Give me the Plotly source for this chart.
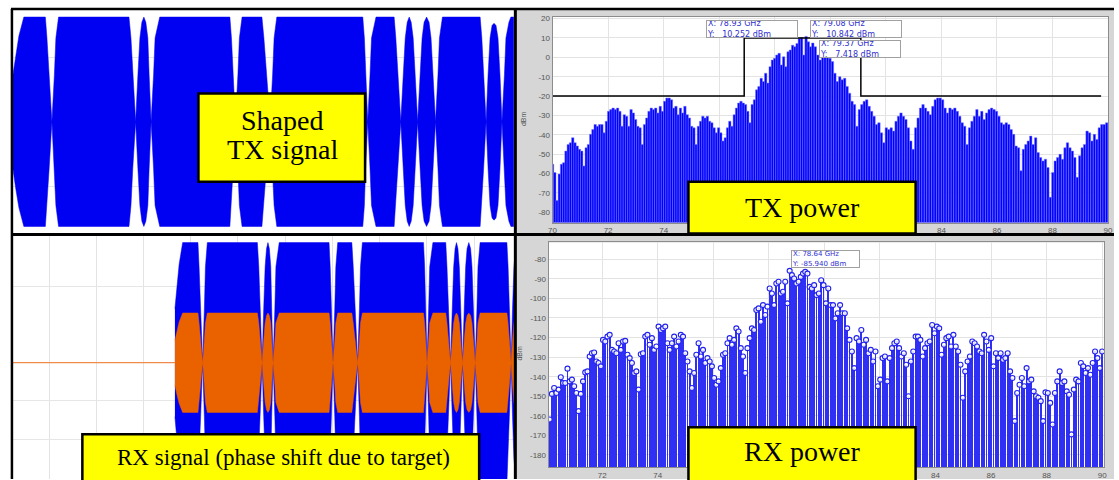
import numpy as np
import plotly.graph_objects as go

W, H = 1119, 480

# ---------------- data ----------------
# TX signal envelope (relative amplitude vs time, arbitrary ns units)
tx_env_t = [0, 2.7, 6, 11, 32.7, 34.3, 36.5, 39.3,
            41.8, 43.3, 46, 117, 119, 120.8, 123.7,
            126, 128, 130, 132, 134, 136, 137.3, 139.3,
            141.8, 143.3, 148, 218.7, 220.3, 222, 224.3,
            226.8, 228.3, 231, 251, 253, 255.5, 259.3,
            261.8, 263.3, 266, 352.7, 354.3, 355.5, 357.7,
            360, 361.5, 366, 384.3, 386, 388, 391,
            393.5, 395.5, 397.5, 399.5, 401.5, 403.5, 405.5, 408,
            410.5, 412.5, 414.5, 417, 419.5, 421.5, 423.5, 426,
            428.5, 430, 433, 471, 472.7, 474.5, 477,
            479, 481, 483, 485, 487, 489, 491, 493,
            495.5, 497, 500, 502, 505]
tx_env_a = [0.45, 0.63, 0.82, 1, 1, 0.8, 0.45, 0,
            0.45, 0.8, 1, 1, 0.8, 0.45, 0,
            0.45, 0.8, 0.95, 1, 0.95, 0.8, 0.45, 0,
            0.45, 0.8, 1, 1, 0.8, 0.45, 0,
            0.45, 0.8, 1, 1, 0.8, 0.45, 0,
            0.45, 0.8, 1, 1, 0.8, 0.45, 0,
            0.45, 0.8, 1, 1, 0.8, 0.45, 0,
            0.45, 0.8, 0.95, 1, 0.95, 0.8, 0.45, 0,
            0.45, 0.8, 0.95, 1, 0.95, 0.8, 0.45, 0,
            0.45, 0.8, 1, 1, 0.8, 0.45, 0,
            0.45, 0.8, 0.92, 0.94, 0.92, 0.8, 0.45, 0,
            0.45, 0.8, 0.95, 1, 1]
tx_amp = 0.81

# RX signal: delayed copy, two components
rx_delay = 229.8
rx_blue_amp = 0.314
rx_orange_amp = 0.13
rx_quiet_t = [0.0, 229.8]
rx_quiet_v = [0.0, 0.0]

# TX power spectrum (dBm)
tx_db_a = [-55.2, -59.5, -74.0, -60.3, -55.2, -54.4, -48.4, -45.0, -44.1, -41.5,
           -44.1, -45.8, -47.5, -48.4, -56.1, -46.7, -45.0, -39.8, -37.3, -34.7,
           -35.6, -34.7, -34.7, -39.0, -33.0, -27.9, -27.0, -26.2, -27.0, -26.2,
           -27.9, -35.6, -29.6, -30.4, -35.6, -27.0, -28.7, -32.1, -35.6, -36.4,
           -45.0, -34.7, -31.3, -27.9, -26.2, -27.0, -26.2, -28.7, -25.3, -27.9,
           -22.7, -21.0, -21.0, -21.9, -26.2, -25.3, -29.6, -26.2, -28.7, -25.3,
           -29.6, -31.3, -35.6, -36.4, -45.0, -35.6, -33.0, -30.4, -31.3, -30.4,
           -33.0, -33.8, -36.4, -39.0, -36.4, -39.0, -43.2, -41.5, -36.4, -33.0,
           -35.6, -29.6, -26.2, -23.6, -22.7, -23.6, -24.4, -27.9, -33.8, -24.4,
           -21.9, -16.8, -15.0, -10.8, -12.5, -8.2, -13.3, -4.8, -1.4, -0.5,
           1.2, 2.1, -3.9, 0.3, -4.8, 2.9, 3.8, 6.3, 5.5, 7.2,
           9.7, 10.25, 1.2, 10.84, 8.0, 5.5, 7.42]
tx_db_b = [5.5, 1.2, -1.4, 0.3, 1.2, 0.3, -0.5, -2.2, -8.2, -12.5,
           -10.0, -11.6, -10.8, -15.0, -18.5, -22.7, -24.4, -35.6, -27.0, -24.4,
           -22.7, -21.9, -25.3, -27.9, -30.4, -34.7, -33.8, -39.0, -44.1, -36.4,
           -37.3, -36.4, -38.1, -33.0, -30.4, -28.7, -30.4, -32.1, -36.4, -43.2,
           -47.5, -36.4, -31.3, -26.2, -24.4, -26.2, -27.9, -29.6, -25.3, -21.9,
           -21.0, -21.0, -21.9, -26.2, -28.7, -26.2, -27.0, -26.2, -27.9, -30.4,
           -33.8, -35.6, -45.0, -36.4, -33.0, -30.4, -27.0, -30.4, -27.9, -32.1,
           -28.7, -27.0, -26.2, -27.0, -27.9, -30.4, -33.8, -34.7, -33.8, -34.7,
           -37.3, -39.8, -45.8, -46.7, -58.6, -47.5, -45.0, -43.2, -40.7, -45.0,
           -41.5, -49.2, -51.8, -53.5, -52.6, -56.9, -72.3, -59.5, -53.5, -51.8,
           -50.1, -52.6, -46.7, -44.1, -46.7, -48.4, -51.8, -62.0, -50.9, -46.7,
           -45.0, -38.1, -39.0, -43.2, -39.8, -42.4, -36.4, -34.7, -34.7, -33.8]
tx_f = np.concatenate([np.linspace(70.0, 79.37, len(tx_db_a)),
                       np.linspace(79.46, 89.95, len(tx_db_b))])
tx_db = np.array(tx_db_a + tx_db_b)
tx_floor = -90.0

# spectral mask
mask_f = [70.0, 76.9, 76.9, 81.1, 81.1, 89.75]
mask_db = [-20, -20, 10, 10, -20, -20]

# RX power spectrum (dBm)
rx_db_a = [-161.9, -148.8, -145.8, -148.3, -146.6, -140.3, -143.2, -143.2, -135.9, -142.4,
           -141.5, -144.9, -148.3, -157.6, -148.8, -142.4, -137.8, -137.3, -129.7, -128.0,
           -127.6, -132.2, -133.0, -134.7, -121.2, -122.0, -119.5, -118.6, -126.3, -127.1,
           -128.0, -122.9, -126.3, -122.0, -121.7, -128.8, -130.5, -133.0, -138.1, -137.3,
           -146.6, -128.5, -128.0, -119.5, -118.6, -123.7, -120.3, -126.3, -124.6, -114.4,
           -116.1, -115.3, -114.4, -122.9, -126.3, -122.9, -119.5, -124.6, -122.0, -118.6,
           -119.5, -128.0, -132.2, -137.3, -145.8, -138.1, -128.8, -122.9, -129.7, -126.3,
           -133.0, -130.5, -132.2, -134.7, -140.7, -144.1, -142.4, -135.6, -128.8, -128.0,
           -122.9, -120.3, -123.7, -121.2, -115.3, -116.9, -125.4, -129.7, -138.1, -125.4,
           -120.3, -115.3, -116.1, -105.9, -105.1, -111.9, -103.4, -108.5, -104.2, -94.9,
           -97.5, -103.4, -92.4, -91.5, -97.5, -96.6, -91.5, -102.5, -85.9, -88.1,
           -89.8, -92.4, -91.5, -89.0, -87.3, -86.4, -87.3, -94.1, -94.9]
rx_db_b = [-93.2, -98.3, -97.5, -90.7, -93.2, -102.5, -94.9, -103.4, -103.4, -110.2,
           -107.6, -103.4, -107.6, -107.6, -115.3, -121.2, -127.1, -135.6, -120.3, -122.0,
           -116.1, -123.7, -121.2, -128.0, -126.3, -132.2, -127.1, -144.9, -141.5, -130.5,
           -129.7, -142.4, -130.5, -125.4, -122.9, -122.0, -125.4, -129.7, -128.0, -133.9,
           -150.0, -132.2, -127.1, -119.5, -119.5, -121.2, -129.7, -125.4, -122.9, -122.0,
           -113.6, -117.8, -114.4, -115.3, -128.8, -123.7, -120.3, -119.5, -124.6, -118.6,
           -124.6, -127.1, -133.9, -150.8, -137.3, -132.2, -129.7, -122.0, -122.9, -124.6,
           -127.1, -128.0, -118.6, -122.0, -126.3, -120.3, -134.7, -128.0, -130.5, -128.0,
           -131.4, -130.5, -128.0, -137.3, -140.7, -162.7, -148.3, -144.1, -140.7, -144.9,
           -135.6, -142.4, -141.5, -147.5, -150.0, -150.8, -152.5, -162.7, -148.0, -148.3,
           -153.4, -164.4, -148.3, -142.4, -137.3, -143.2, -142.4, -147.5, -149.2, -169.5,
           -146.6, -141.5, -142.4, -133.0, -134.7, -138.1, -135.6, -139.0, -133.0, -127.1,
           -130.5, -135.6, -127.1]
rx_f = np.concatenate([np.linspace(70.11, 79.55, len(rx_db_a)),
                       np.linspace(79.63, 90.0, len(rx_db_b))])
rx_db = np.array(rx_db_a + rx_db_b)
rx_floor = -190.0

tx_x_ticks = [70, 72, 74, 76, 78, 80, 82, 84, 86, 88, 90]
tx_y_ticks = [20, 10, 0, -10, -20, -30, -40, -50, -60, -70, -80]
rx_x_ticks = [72, 74, 76, 78, 80, 82, 84, 86, 88, 90]
rx_y_ticks = [-80, -90, -100, -110, -120, -130, -140, -150, -160, -170, -180]

# datatips
tx_tips = [("X: 78.93 GHz", "Y:\u00a0\u00a0\u00a010.252 dBm"),
           ("X: 79.08 GHz", "Y:\u00a0\u00a0\u00a010.842 dBm"),
           ("X: 79.37 GHz", "Y:\u00a0\u00a0\u00a07.418 dBm")]
rx_tip = ("X: 78.64 GHz", "Y: -85.940 dBm")

# ---------------- figure ----------------
BLUE = "#0000f2"
ORANGE = "#ea6100"


def px(x):
    return x / W


def py(y):
    return 1 - y / H


def envelope(t, a, amp, shift=0.0):
    xs = [v + shift for v in t] + [v + shift for v in t[::-1]]
    ys = [v * amp for v in a] + [-v * amp for v in a[::-1]]
    return xs, ys


fig = go.Figure()

# top-left TX signal
ex, ey = envelope(tx_env_t, tx_env_a, tx_amp)
fig.add_trace(go.Scatter(x=ex, y=ey, fill="toself", mode="lines",
                         line=dict(color=BLUE, width=0.5), fillcolor=BLUE,
                         xaxis="x", yaxis="y", hoverinfo="skip"))

# top-right TX power
fig.add_trace(go.Bar(x=tx_f, y=tx_db - tx_floor, base=tx_floor, width=0.086,
                     marker=dict(color="#0000ff", line=dict(color="#7a7aff", width=0.5)),
                     xaxis="x2", yaxis="y2", hoverinfo="skip"))
fig.add_trace(go.Scatter(x=mask_f, y=mask_db, mode="lines",
                         line=dict(color="black", width=1.5),
                         xaxis="x2", yaxis="y2", hoverinfo="skip"))

# bottom-left RX signal
bx, by = envelope(tx_env_t, tx_env_a, rx_blue_amp, rx_delay)
fig.add_trace(go.Scatter(x=bx, y=by, fill="toself", mode="lines",
                         line=dict(color=BLUE, width=0.5), fillcolor=BLUE,
                         xaxis="x3", yaxis="y3", hoverinfo="skip"))
fig.add_trace(go.Scatter(x=rx_quiet_t, y=rx_quiet_v, mode="lines",
                         line=dict(color="#f08a4b", width=1.2),
                         xaxis="x3", yaxis="y3", hoverinfo="skip"))
ox, oy = envelope(tx_env_t, tx_env_a, rx_orange_amp, rx_delay)
fig.add_trace(go.Scatter(x=ox, y=oy, fill="toself", mode="lines",
                         line=dict(color=ORANGE, width=0.5), fillcolor=ORANGE,
                         xaxis="x3", yaxis="y3", hoverinfo="skip"))

# bottom-right RX power
fig.add_trace(go.Bar(x=rx_f, y=rx_db - rx_floor, base=rx_floor, width=0.068,
                     marker=dict(color="#3030f5", line=dict(width=0)),
                     xaxis="x4", yaxis="y4", hoverinfo="skip"))
fig.add_trace(go.Scatter(x=rx_f, y=rx_db, mode="markers",
                         marker=dict(symbol="circle", size=5, color="rgba(255,255,255,0.85)",
                                     line=dict(color="#2222ee", width=1.1)),
                         xaxis="x4", yaxis="y4", hoverinfo="skip"))

tickfont = dict(family="Liberation Sans", size=8, color="#555555")
right_axis = dict(showline=True, mirror=True, linecolor="#8c8c8c", linewidth=1,
                  gridcolor="#e3e3e3", gridwidth=1, zeroline=False, ticks="",
                  tickfont=tickfont)

fig.update_layout(
    width=W, height=H, autosize=False,
    margin=dict(l=0, r=0, t=0, b=0),
    paper_bgcolor="white", plot_bgcolor="white",
    showlegend=False, bargap=0, hovermode=False,
    xaxis=dict(domain=[px(9), px(514)], range=[0, 505], showgrid=False,
               showticklabels=False, zeroline=False, anchor="y"),
    yaxis=dict(domain=[py(233), py(8)], range=[-0.865, 0.865], dtick=0.5,
               gridcolor="#e6e6e6", showticklabels=False, zeroline=False, anchor="x"),
    xaxis2=dict(domain=[px(553), px(1113)], range=[70, 90], tickvals=tx_x_ticks,
                ticktext=[str(v) for v in tx_x_ticks], anchor="y2", **right_axis),
    yaxis2=dict(domain=[py(222), py(15)], range=[-85.4, 20.9], tickvals=tx_y_ticks,
                ticktext=[str(v) for v in tx_y_ticks], anchor="x2", **right_axis),
    xaxis3=dict(domain=[px(9), px(515)], range=[0, 712.1], tick0=118.2, dtick=67,
                gridcolor="#e3e3e3", showticklabels=False, zeroline=False, anchor="y3"),
    yaxis3=dict(domain=[0, py(235)], range=[-0.304, 0.3325],
                tickvals=[0.2, 0, -0.1, -0.2], gridcolor="#e6e6e6",
                showticklabels=False, zeroline=False, anchor="x3"),
    xaxis4=dict(domain=[px(549), px(1109)], range=[70.07, 90.07], tickvals=rx_x_ticks,
                ticktext=[str(v) for v in rx_x_ticks], anchor="y4", **right_axis),
    yaxis4=dict(domain=[py(468), py(242)], range=[-186.2, -71.4], tickvals=rx_y_ticks,
                ticktext=[str(v) for v in rx_y_ticks], anchor="x4", **right_axis),
)

shapes = []
# gray figure backgrounds of the spectrum panels
shapes.append(dict(type="rect", xref="paper", yref="paper", x0=px(516), x1=1, y0=0, y1=py(8),
                   fillcolor="#d6d6d6", line=dict(width=0), layer="below"))
for (x0, y0, x1, y1) in [(553, 15, 1113, 222), (549, 242, 1109, 468)]:
    shapes.append(dict(type="rect", xref="paper", yref="paper", x0=px(x0), x1=px(x1),
                       y0=py(y1), y1=py(y0), fillcolor="white", line=dict(width=0),
                       layer="below"))
# black frame lines
for (x0, y0, x1, y1, w) in [(7, 7, 1119, 7, 2.5), (8, 7, 8, 480, 2.5),
                            (8, 234, 1119, 234, 3), (515.5, 7, 515.5, 480, 3)]:
    shapes.append(dict(type="line", xref="paper", yref="paper", x0=px(x0), x1=px(x1),
                       y0=py(y0), y1=py(y1), line=dict(color="black", width=w), layer="above"))
# yellow label boxes
for (x0, y0, x1, y1) in [(196, 92, 364, 181), (690, 181, 919, 233),
                         (79, 435, 479, 483), (690, 428, 919, 483)]:
    shapes.append(dict(type="rect", xref="paper", yref="paper", x0=px(x0), x1=px(x1),
                       y0=py(y1), y1=py(y0), fillcolor="#ffff00",
                       line=dict(color="black", width=2.5), layer="above"))
fig.update_layout(shapes=shapes)

serif = "Liberation Serif"
ann = []


def label(x, y, text, size):
    ann.append(dict(xref="paper", yref="paper", x=px(x), y=py(y), text=text,
                    showarrow=False, xanchor="center", yanchor="middle",
                    font=dict(family=serif, size=size, color="black")))


label(280, 119, "Shaped", 28)
label(281, 148, "TX signal", 28)
label(805, 207, "TX power", 28)
label(282, 458, "RX signal (phase shift due to target)", 23)
label(805, 452, "RX power", 28)

tip_font = dict(family="DejaVu Sans", size=8, color="#3030d0")
for (x0, y0, w), (l1, l2) in zip([(708, 18, 90), (813, 18, 90), (822, 38, 80)], tx_tips):
    ann.append(dict(xref="paper", yref="paper", x=px(x0), y=py(y0), text=l1 + "<br>" + l2,
                    showarrow=False, xanchor="left", yanchor="top", align="left",
                    width=w, height=16, bgcolor="white", bordercolor="#a0a0a0",
                    borderwidth=1, borderpad=0, font=tip_font))
ann.append(dict(xref="paper", yref="paper", x=px(793), y=py(250),
                text=rx_tip[0] + "<br>" + rx_tip[1], showarrow=False, xanchor="left",
                yanchor="top", align="left", width=67, height=16, bgcolor="white",
                bordercolor="#a0a0a0", borderwidth=1, borderpad=0,
                font=dict(family="DejaVu Sans", size=7, color="#3030d0")))

for (x, y) in [(523, 117), (520, 353)]:
    ann.append(dict(xref="paper", yref="paper", x=px(x), y=py(y), text="dBm",
                    showarrow=False, textangle=-90, xanchor="center", yanchor="middle",
                    font=dict(family="Liberation Sans", size=7, color="#555555")))

fig.update_layout(annotations=ann)

fig.write_html("out.html",
               config={"displayModeBar": False, "staticPlot": True},
               post_script="document.body.style.margin='0';document.body.style.padding='0';"
                           "document.documentElement.style.overflow='hidden';")
